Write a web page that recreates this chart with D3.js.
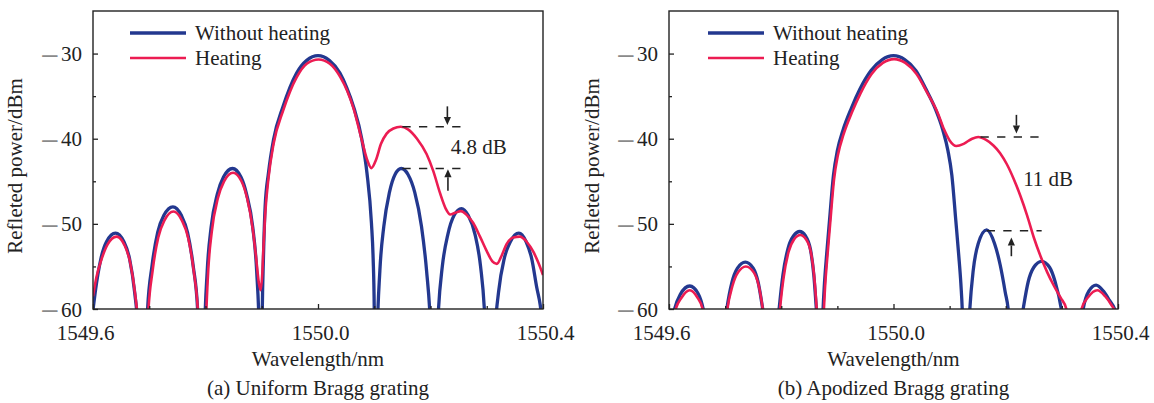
<!DOCTYPE html>
<html><head><meta charset="utf-8">
<script src="https://cdn.jsdelivr.net/npm/d3@7"></script>
<style>
body{margin:0;background:#fff}
svg text, svg tspan{font-family:'Liberation Serif','Times New Roman',serif !important;fill:#222}
</style>
</head><body>
<svg id="chart" width="1154" height="403"></svg>
<script>
// ---------- data ----------
const xDomain = [1549.6, 1550.4];
const yDomain = [-60, -25];
const xMinorTicks = [1549.7, 1549.8, 1549.9, 1550.1, 1550.2, 1550.3];
const xMajorTicks = [1549.6, 1550.0, 1550.4];
const xTickLabels = ["1549.6", "1550.0", "1550.4"];
const yMajorTicks = [-30, -40, -50, -60];
const yMinorTicks = [-35, -45, -55];
const seriesNames = ["Without heating", "Heating"];
const xTitle = "Wavelength/nm";
const yTitle = "Refleted power/dBm";
const captions = ["(a) Uniform Bragg grating", "(b) Apodized Bragg grating"];

const uniformWithout = [
 [1549.600,-60.1],[1549.604,-58.0],[1549.614,-54.1],[1549.624,-52.1],[1549.640,-51.1],[1549.655,-52.1],[1549.665,-54.1],[1549.674,-58.0],[1549.681,-63.2],[1549.686,-71.6],[1549.689,-85],
 [1549.692,-68.5],[1549.697,-60.1],[1549.705,-54.9],[1549.715,-51.0],[1549.726,-49.0],[1549.742,-48.0],[1549.757,-49.0],[1549.768,-51.0],[1549.778,-54.9],[1549.786,-60.1],[1549.791,-68.5],[1549.795,-85],
 [1549.798,-64.0],[1549.803,-55.6],[1549.810,-50.4],[1549.821,-46.5],[1549.832,-44.5],[1549.848,-43.5],[1549.863,-44.5],[1549.873,-46.5],[1549.884,-50.4],[1549.891,-55.6],[1549.896,-64.0],[1549.898,-85],
 [1549.901,-60],[1549.903,-54],[1549.906,-48.0],[1549.912,-44.0],[1549.921,-40.1],[1549.938,-36.2],[1549.950,-34.0],[1549.962,-32.3],[1549.980,-30.8],[1550.000,-30.25],[1550.020,-30.8],[1550.039,-32.3],[1550.051,-34.0],[1550.063,-36.2],[1550.078,-40.1],[1550.087,-44.0],[1550.095,-49.9],[1550.098,-54],[1550.100,-60],[1550.102,-85],
 [1550.105,-64],[1550.110,-55.5],[1550.117,-50.3],[1550.127,-46.3],[1550.137,-44.2],[1550.148,-43.5],[1550.160,-44.2],[1550.172,-46.3],[1550.184,-50.3],[1550.193,-55.5],[1550.200,-62],[1550.204,-70],[1550.206,-85],
 [1550.209,-68.7],[1550.214,-60.3],[1550.221,-55.0],[1550.231,-51.2],[1550.242,-49.0],[1550.255,-48.2],[1550.267,-49.0],[1550.279,-51.2],[1550.289,-55.0],[1550.296,-60.3],[1550.301,-68.7],[1550.305,-85],
 [1550.309,-71.6],[1550.314,-63.2],[1550.321,-58.0],[1550.331,-54.1],[1550.342,-52.1],[1550.357,-51.1],[1550.370,-52.1],[1550.380,-54.1],[1550.389,-57.5],[1550.395,-59.5],[1550.400,-62.5]
];
const uniformHeating = [
 [1549.600,-58.5],[1549.606,-56.3],[1549.615,-54.2],[1549.626,-52.4],[1549.642,-51.5],[1549.656,-52.5],[1549.666,-54.5],[1549.675,-58.3],[1549.681,-62.5],[1549.686,-70],[1549.690,-80],
 [1549.693,-70],[1549.698,-60.8],[1549.706,-55.5],[1549.716,-51.6],[1549.727,-49.6],[1549.743,-48.55],[1549.758,-49.6],[1549.769,-51.6],[1549.779,-55.5],[1549.787,-60.8],[1549.792,-69],[1549.796,-78],
 [1549.799,-66],[1549.804,-56.5],[1549.811,-51.0],[1549.822,-47.0],[1549.833,-45.0],[1549.849,-44.0],[1549.864,-45.0],[1549.874,-47.0],[1549.884,-50.6],[1549.890,-54.0],[1549.895,-57.0],[1549.898,-57.8],[1549.901,-55.8],[1549.903,-52.8],
 [1549.906,-49.0],[1549.912,-44.6],[1549.921,-40.6],[1549.938,-36.7],[1549.950,-34.5],[1549.962,-32.8],[1549.980,-31.2],[1550.001,-30.7],[1550.021,-31.2],[1550.040,-32.8],[1550.052,-34.4],[1550.063,-36.4],[1550.078,-40.2],[1550.087,-42.4],[1550.095,-43.45],[1550.103,-42.5],[1550.112,-40.6],[1550.122,-39.4],[1550.134,-38.8],[1550.147,-38.6],[1550.160,-38.9],[1550.176,-40.0],[1550.193,-41.8],[1550.205,-43.8],[1550.217,-46.4],[1550.227,-48.2],[1550.235,-48.9],[1550.244,-48.7],[1550.254,-48.5],[1550.265,-49.0],[1550.276,-49.9],[1550.288,-51.5],[1550.300,-53.2],[1550.310,-54.4],[1550.318,-54.7],[1550.326,-53.8],[1550.335,-52.4],[1550.347,-51.6],[1550.359,-51.5],[1550.371,-52.1],[1550.383,-53.3],[1550.392,-54.6],[1550.400,-56.0]
];
const apodizedWithout = [
 [1549.600,-63.5],[1549.610,-60.0],[1549.620,-58.3],[1549.637,-57.3],[1549.652,-58.2],[1549.661,-60.0],[1549.670,-63.5],[1549.680,-70],[1549.687,-85],
 [1549.692,-68],[1549.698,-62.5],[1549.703,-60.0],[1549.712,-56.9],[1549.722,-55.2],[1549.736,-54.5],[1549.750,-55.2],[1549.759,-56.9],[1549.767,-60.0],[1549.774,-63],[1549.780,-68],[1549.786,-85],
 [1549.789,-70],[1549.793,-62.5],[1549.797,-59.5],[1549.803,-56.0],[1549.812,-52.9],[1549.822,-51.4],[1549.833,-50.9],[1549.843,-51.4],[1549.852,-53.0],[1549.858,-56.0],[1549.862,-59.5],[1549.866,-63.5],[1549.869,-85],
 [1549.871,-70],[1549.874,-61],[1549.877,-57.0],[1549.881,-53.5],[1549.886,-49.6],[1549.893,-44.3],[1549.900,-41.4],[1549.910,-39.0],[1549.925,-36.4],[1549.940,-34.2],[1549.960,-32.0],[1549.980,-30.7],[1550.000,-30.25],[1550.020,-30.7],[1550.040,-32.0],[1550.058,-34.2],[1550.074,-36.4],[1550.088,-39.0],[1550.097,-41.4],[1550.104,-44.3],[1550.111,-49.6],[1550.116,-53.5],[1550.120,-57.0],[1550.123,-61],[1550.126,-70],[1550.128,-85],
 [1550.131,-67],[1550.136,-60.0],[1550.142,-55.5],[1550.151,-52.3],[1550.166,-50.7],[1550.180,-52.3],[1550.190,-54.8],[1550.199,-58.0],[1550.205,-60.5],[1550.209,-65],[1550.213,-85],
 [1550.218,-68],[1550.225,-62.5],[1550.231,-60.0],[1550.240,-56.8],[1550.250,-55.1],[1550.264,-54.4],[1550.278,-55.1],[1550.288,-56.8],[1550.299,-60.0],[1550.306,-63.5],[1550.312,-68],[1550.317,-85],
 [1550.322,-72],[1550.330,-64],[1550.338,-60.0],[1550.348,-57.9],[1550.361,-57.2],[1550.374,-57.9],[1550.385,-59.0],[1550.394,-60.0],[1550.400,-61.5]
];
const apodizedHeating = [
 [1549.600,-64.5],[1549.612,-60.0],[1549.622,-58.7],[1549.637,-57.8],[1549.651,-58.7],[1549.660,-60.0],[1549.670,-64.5],[1549.680,-71],[1549.687,-85],
 [1549.692,-69],[1549.698,-63.5],[1549.704,-60.0],[1549.713,-57.3],[1549.723,-55.7],[1549.737,-55.0],[1549.751,-55.7],[1549.760,-57.3],[1549.767,-60.0],[1549.774,-64],[1549.780,-69],[1549.786,-85],
 [1549.789,-71],[1549.793,-63.5],[1549.798,-59.8],[1549.804,-56.4],[1549.813,-53.3],[1549.823,-51.8],[1549.834,-51.3],[1549.844,-51.8],[1549.853,-53.4],[1549.859,-56.4],[1549.863,-59.8],[1549.867,-64],[1549.870,-85],
 [1549.872,-72],[1549.875,-62],[1549.878,-57.5],[1549.882,-54.0],[1549.887,-50.1],[1549.894,-44.8],[1549.901,-41.9],[1549.911,-39.5],[1549.926,-36.9],[1549.941,-34.7],[1549.961,-32.4],[1549.981,-31.1],[1550.001,-30.65],[1550.021,-31.1],[1550.041,-32.4],[1550.060,-34.6],[1550.079,-37.0],[1550.090,-38.9],[1550.100,-40.2],[1550.112,-40.85],[1550.125,-40.6],[1550.140,-40.0],[1550.151,-39.8],[1550.165,-40.15],[1550.178,-40.8],[1550.190,-41.7],[1550.202,-43.0],[1550.214,-44.7],[1550.226,-46.7],[1550.238,-49.0],[1550.250,-51.6],[1550.262,-53.8],[1550.274,-55.7],[1550.286,-57.3],[1550.298,-58.7],[1550.308,-60.0],[1550.315,-62.5],[1550.320,-67],[1550.324,-80],
 [1550.327,-70],[1550.331,-64],[1550.335,-60.0],[1550.347,-58.6],[1550.363,-57.8],[1550.377,-58.5],[1550.388,-59.5],[1550.396,-60.5],[1550.400,-61.5]
];

// annotation values (wavelength, dB)
const uniformGapLabel = "4.8 dB";
const uniformGapLevels = [-38.6, -43.5];
const uniformGapSpans = [[1550.150, 1550.257], [1550.150, 1550.257]];
const uniformArrows = [[1550.230, -36.2, -38.4], [1550.231, -46.1, -43.6]];
const uniformLabelPos = [1550.236, -41.8];

const apodizedGapLabel = "11 dB";
const apodizedGapLevels = [-39.8, -50.8];
const apodizedGapSpans = [[1550.155, 1550.261], [1550.166, 1550.264]];
const apodizedArrows = [[1550.219, -37.2, -39.4], [1550.210, -53.8, -51.6]];
const apodizedLabelPos = [1550.231, -45.5];

// ---------- drawing ----------
const svg = d3.select("#chart");
const BLUE = "#23388f", RED = "#ec1c52", INK = "#222";
const FS = 21;
const FONT = "'Liberation Serif','Times New Roman',serif";

const panels = [
  {id:"a", left:93, right:543, series:[uniformWithout, uniformHeating], caption:captions[0],
   gapLabel:uniformGapLabel, levels:uniformGapLevels, spans:uniformGapSpans, arrows:uniformArrows, labelPos:uniformLabelPos,
   legendX:130, yTitleX:22},
  {id:"b", left:669, right:1118, series:[apodizedWithout, apodizedHeating], caption:captions[1],
   gapLabel:apodizedGapLabel, levels:apodizedGapLevels, spans:apodizedGapSpans, arrows:apodizedArrows, labelPos:apodizedLabelPos,
   legendX:708, yTitleX:599}
];
const plotTop = 11, plotBottom = 309;

function styleText(sel, size) {
  return sel.style("font-family", FONT).style("font-size", size + "px").style("fill", INK);
}

panels.forEach(p => {
  const g = svg.append("g");
  const x = d3.scaleLinear().domain(xDomain).range([p.left, p.right]);
  const y = d3.scaleLinear().domain(yDomain).range([plotBottom, plotTop]);

  g.append("clipPath").attr("id", "clip-" + p.id)
    .append("rect").attr("x", p.left).attr("y", plotTop).attr("width", p.right - p.left).attr("height", plotBottom - plotTop);

  const line = d3.line().x(d => x(d[0])).y(d => y(d[1])).curve(d3.curveMonotoneX);
  const lg = g.append("g").attr("clip-path", `url(#clip-${p.id})`);
  lg.append("path").datum(p.series[0]).attr("d", line).attr("fill", "none")
    .attr("stroke", BLUE).attr("stroke-width", 3.3).attr("stroke-linejoin", "round");
  lg.append("path").datum(p.series[1]).attr("d", line).attr("fill", "none")
    .attr("stroke", RED).attr("stroke-width", 2.6).attr("stroke-linejoin", "round");

  // frame
  g.append("rect").attr("x", p.left).attr("y", plotTop).attr("width", p.right - p.left).attr("height", plotBottom - plotTop)
    .attr("fill", "none").attr("stroke", INK).attr("stroke-width", 1.4);

  // x axis ticks
  const xMinor = g.append("g").attr("transform", `translate(0,${plotBottom})`)
    .call(d3.axisBottom(x).tickValues(xMinorTicks).tickSizeInner(-3).tickSizeOuter(0).tickFormat(""));
  const xMajor = g.append("g").attr("transform", `translate(0,${plotBottom})`)
    .call(d3.axisBottom(x).tickValues(xMajorTicks).tickSizeInner(-5).tickSizeOuter(0).tickPadding(16)
      .tickFormat((d, i) => xTickLabels[i]));
  [xMinor, xMajor].forEach(a => {
    a.attr("font-family", null).attr("font-size", null);
    a.select(".domain").remove();
    a.selectAll("line").attr("stroke", INK).attr("stroke-width", 1.3);
  });
  styleText(xMajor.selectAll("text"), FS).attr("dx", (d, i) => i === 0 ? -8 : 2);

  // y axis ticks
  const yMinor = g.append("g").attr("transform", `translate(${p.left},0)`)
    .call(d3.axisLeft(y).tickValues(yMinorTicks).tickSizeInner(-3).tickSizeOuter(0).tickFormat(""));
  const yMajor = g.append("g").attr("transform", `translate(${p.left},0)`)
    .call(d3.axisLeft(y).tickValues(yMajorTicks).tickSizeInner(-5).tickSizeOuter(0).tickPadding(11).tickFormat(""));
  [yMinor, yMajor].forEach(a => {
    a.attr("font-family", null).attr("font-size", null);
    a.select(".domain").remove();
    a.selectAll("line").attr("stroke", INK).attr("stroke-width", 1.3);
  });
  yMajor.selectAll(".tick text").each(function(d) {
    const t = styleText(d3.select(this).text(null).attr("dy", null), FS);
    t.append("tspan").attr("dy", 12.5).style("font-size", "33px").style("fill", "#8a8a8a").text("\u2212");
    t.append("tspan").attr("dx", 2).attr("dy", -5.4).text(String(Math.abs(d)));
  });

  // titles
  styleText(g.append("text").attr("x", (p.left + p.right) / 2).attr("y", 366).attr("text-anchor", "middle"), FS).text(xTitle);
  styleText(g.append("text").attr("x", (p.left + p.right) / 2).attr("y", 395).attr("text-anchor", "middle"), FS).text(p.caption);
  styleText(g.append("text").attr("transform", `translate(${p.yTitleX},166) rotate(-90)`).attr("text-anchor", "middle"), FS).text(yTitle);

  // legend
  const legendY = [33, 58];
  seriesNames.forEach((name, i) => {
    g.append("line").attr("x1", p.legendX).attr("x2", p.legendX + 56).attr("y1", legendY[i]).attr("y2", legendY[i])
      .attr("stroke", i === 0 ? BLUE : RED).attr("stroke-width", i === 0 ? 3.3 : 2.6);
    styleText(g.append("text").attr("x", p.legendX + 65).attr("y", legendY[i] + 7), FS).text(name);
  });

  // annotation: dashed levels, arrows, label
  p.levels.forEach((lv, i) => {
    g.append("line").attr("x1", x(p.spans[i][0])).attr("x2", x(p.spans[i][1]))
      .attr("y1", y(lv)).attr("y2", y(lv)).attr("stroke", INK).attr("stroke-width", 1.5)
      .attr("stroke-dasharray", "8.3,8.3");
  });
  p.arrows.forEach(a => {
    const ax = x(a[0]), y0 = y(a[1]), y1 = y(a[2]);
    const dir = y1 > y0 ? 1 : -1;
    const headL = 8, headW = 3.6;
    g.append("line").attr("x1", ax).attr("x2", ax).attr("y1", y0).attr("y2", y1 - dir * headL)
      .attr("stroke", INK).attr("stroke-width", 1.6);
    g.append("path").attr("d", `M${ax},${y1} L${ax - headW},${y1 - dir * headL} L${ax + headW},${y1 - dir * headL} Z`)
      .attr("fill", INK);
  });
  styleText(g.append("text").attr("x", x(p.labelPos[0])).attr("y", y(p.labelPos[1])), FS).text(p.gapLabel);
});
</script>
</body></html>
